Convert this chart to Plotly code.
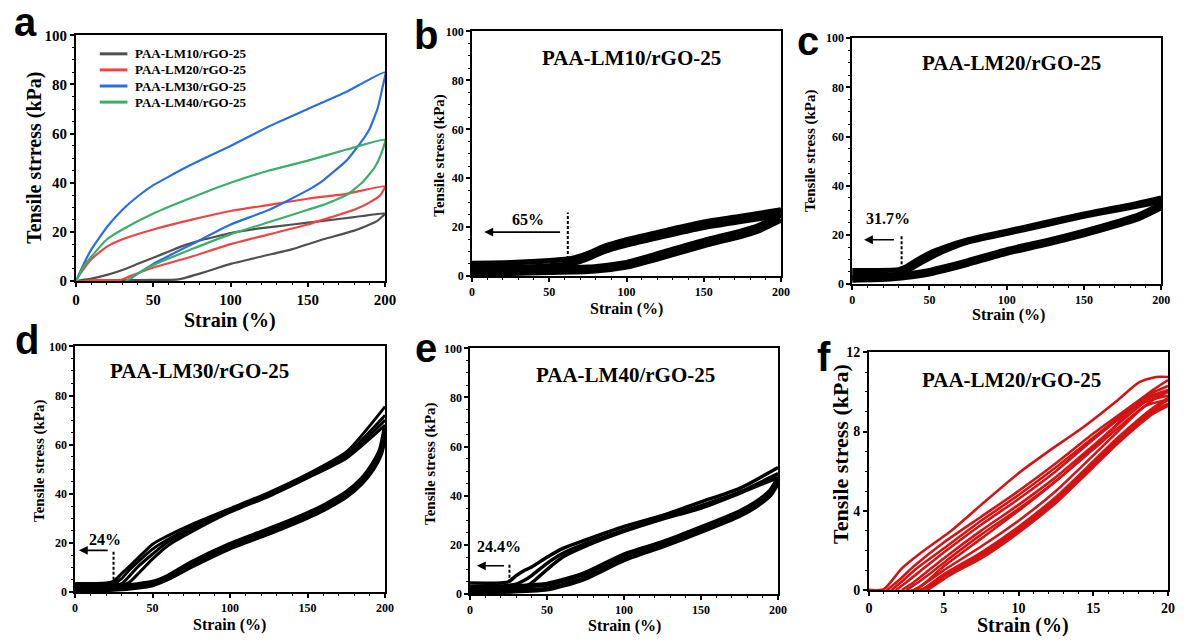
import plotly.graph_objects as go

# ---------------- Panel a data (loading / unloading curves) ----------------
a_names = ["PAA-LM10/rGO-25", "PAA-LM20/rGO-25", "PAA-LM30/rGO-25", "PAA-LM40/rGO-25"]
a_colors = ["#505050", "#ee4444", "#2a6fe0", "#3aaf6a"]

lm10_strain = [0, 10, 20, 30, 40, 50, 60, 70, 80, 90, 100, 120, 140, 160, 180, 200,
               195, 190, 180, 160, 150, 140, 120, 100, 90, 80, 70, 65, 60, 40, 20, 0]
lm10_stress = [0, 1, 2.5, 4.5, 7, 9.5, 12, 14.5, 16.5, 18, 19.5, 21.5, 23, 24.5, 26, 27.5,
               24.5, 23, 20.5, 17, 15, 13, 10, 7, 5, 3, 1.2, 0.6, 0.5, 0.4, 0.3, 0]
lm20_strain = [0, 5, 10, 20, 30, 50, 75, 100, 125, 150, 175, 200,
               197, 190, 180, 160, 150, 125, 100, 75, 50, 35, 28, 15, 0]
lm20_stress = [0, 5, 9, 14, 17, 21, 25, 28.5, 31, 33.5, 35.5, 38.5,
               35, 32, 29, 25, 23, 19, 15, 10, 5.5, 2, 0.3, 0.5, 0]
lm30_strain = [0, 5, 10, 20, 30, 40, 50, 60, 75, 100, 125, 150, 175, 200,
               198, 195, 190, 185, 175, 160, 150, 125, 100, 75, 50, 40, 33]
lm30_stress = [0, 7, 13, 22, 29, 34.5, 39, 42.5, 47.5, 55, 63, 70, 77, 85,
               78, 70, 62, 57, 49, 41, 37, 29, 23, 15, 7, 3, 0]
lm40_strain = [0, 5, 10, 20, 30, 50, 75, 100, 125, 150, 175, 200,
               197, 193, 185, 175, 160, 150, 125, 100, 75, 50, 40, 32]
lm40_stress = [0, 6, 10, 17, 21, 27.5, 34, 40, 45, 49, 53.5, 57.5,
               51, 46, 40, 35, 31, 29, 24, 19, 13, 6.5, 3, 0]

# ---------------- Panel b (PAA-LM10/rGO-25) cycles ----------------
b_load_strain = [0, 25, 50, 65, 75, 85, 100, 125, 150, 175, 200]
b_load1 = [5.2, 5.5, 6.3, 7.2, 9.2, 12, 14.8, 18.5, 22, 24.5, 27]
b_load2 = [3.2, 3.5, 4.2, 5.2, 7.2, 10, 12.8, 16.5, 20, 22.5, 25]
b_unload_strain = [200, 185, 175, 150, 125, 100, 85, 75, 50, 25, 0]
b_unload1 = [25, 20.5, 18.5, 14.5, 10, 5.5, 4.2, 3.6, 3.2, 2.6, 2.4]
b_unload2 = [23, 18.5, 16.5, 12.5, 8, 3.8, 2.5, 2, 1.6, 1.2, 1]

# ---------------- Panel c (PAA-LM20/rGO-25) cycles ----------------
c_load_strain = [0, 15, 30, 35, 40, 50, 60, 75, 100, 125, 150, 175, 200]
c_load1 = [5.5, 5.5, 5.8, 7, 9, 12.5, 15, 18, 21.5, 25, 28.5, 31.5, 35]
c_load2 = [3.5, 3.5, 4, 5, 7, 10.5, 13.5, 17, 20.5, 24, 27.5, 30.5, 33.5]
c_unload_strain = [200, 185, 175, 150, 125, 100, 75, 60, 50, 40, 25, 0]
c_unload1 = [32.5, 28, 26, 21.5, 17.5, 14, 9.5, 7, 5.5, 4.5, 3.5, 2.5]
c_unload2 = [31, 26.5, 24.5, 20, 16, 12.5, 8, 5.5, 4, 3, 2, 1.5]

# ---------------- Panel d (PAA-LM30/rGO-25) cycles ----------------
d_load_strain = [0, 20, 25, 30, 35, 40, 50, 60, 75, 100, 125, 150, 175, 200]
d_load1 = [3.5, 3.7, 4.5, 7.5, 10.5, 13.5, 19.5, 23, 27.5, 34, 40.5, 48, 57, 75.5]
d_load2 = [3, 3.2, 3.5, 5.5, 9, 12, 17.5, 21.5, 26.5, 33.5, 40, 47.5, 56, 72]
d_load3 = [2.5, 2.7, 3, 3.5, 6.5, 10, 15.5, 20.5, 25.5, 33, 39.5, 47, 55, 70]
d_load4 = [2, 2.2, 2.5, 2.8, 4, 7, 13.5, 19, 24.5, 32.5, 39, 46.5, 54.5, 68]
d_unload_strain = [200, 197, 192, 185, 175, 160, 150, 125, 100, 75, 60, 50, 40, 25, 0]
d_unload1 = [67, 58, 52, 46, 40.5, 35, 32, 25.5, 19.5, 12, 6.5, 4, 3, 2, 1.5]
d_unload2 = [64, 56, 50, 44.5, 39, 33.5, 30.5, 24, 18, 10.5, 5.5, 3, 2, 1.2, 0.8]

# ---------------- Panel e (PAA-LM40/rGO-25) cycles ----------------
e_load_strain = [0, 20, 25, 30, 35, 40, 50, 60, 75, 100, 125, 150, 175, 200]
e_load1 = [4.5, 4.5, 5, 7.5, 9.5, 11, 15, 18.5, 22, 27.5, 32, 37.5, 43, 51.5]
e_load2 = [3, 3.3, 3.5, 4, 5.5, 7.5, 12.5, 16.5, 20.5, 26, 31, 36, 41.5, 49]
e_load3 = [1.5, 1.8, 2, 2.2, 2.8, 4.5, 10, 15, 19.5, 25.5, 30.5, 35, 41, 47.5]
e_unload_strain = [200, 195, 185, 175, 150, 125, 100, 75, 60, 50, 40, 20, 0]
e_unload1 = [47, 42, 37, 33.5, 27, 21, 16, 8.5, 5.5, 4, 3.5, 2.5, 2]
e_unload2 = [45.5, 40.5, 35.5, 32, 25.5, 19.5, 14, 6.5, 3.5, 2, 1.5, 1, 0.8]

# ---------------- Panel f (PAA-LM20/rGO-25, small strain) cycles ----------------
f_L1_x = [0, 1, 2.2, 3.5, 5.5, 7.5, 10, 12, 14.3, 16.5, 18.1, 19.2, 20]
f_L1_y = [0, 0.05, 1.1, 1.9, 3.0, 4.3, 5.9, 7.0, 8.2, 9.5, 10.5, 10.75, 10.75]
f_U1_x = [20, 19, 18, 16.5, 15, 12.5, 10, 7.5, 5, 3.8, 3.0, 0]
f_U1_y = [10.6, 10.1, 9.5, 8.3, 7.2, 5.5, 4.0, 2.6, 1.2, 0.4, 0, 0]
f_L2_x = [1.2, 2, 3, 5, 7.5, 10, 12.5, 15, 17, 18.5, 20]
f_L2_y = [0, 0.5, 1.2, 2.4, 3.7, 5.0, 6.4, 7.9, 9.0, 9.8, 10.3]
f_U2_x = [20, 19, 18, 16.5, 15, 12.5, 10, 7.5, 5, 3.5, 3.0]
f_U2_y = [10.0, 9.6, 9.0, 7.9, 6.8, 5.0, 3.5, 2.2, 1.0, 0.2, 0]
f_L3_x = [1.8, 2.5, 3.5, 5, 7.5, 10, 12.5, 15, 17, 18.5, 20]
f_L3_y = [0, 0.4, 1.0, 1.9, 3.3, 4.6, 6.0, 7.6, 8.8, 9.6, 10.0]
f_U3_x = [20, 19, 18, 16.5, 15, 12.5, 10, 7.5, 5, 3.7, 3.4]
f_U3_y = [9.7, 9.2, 8.6, 7.6, 6.5, 4.7, 3.2, 1.9, 0.8, 0.1, 0]
f_L4_x = [2.2, 3, 4, 5, 7.5, 10, 12.5, 15, 17, 18.5, 20]
f_L4_y = [0, 0.4, 1.0, 1.6, 3.0, 4.3, 5.7, 7.3, 8.6, 9.5, 9.8]
f_U4_x = [20, 19, 18, 16.5, 15, 12.5, 10, 7.5, 5, 3.8]
f_U4_y = [9.4, 9.0, 8.4, 7.4, 6.3, 4.5, 3.0, 1.7, 0.7, 0]
f_L5_x = [1.5, 2.3, 3.2, 5, 7.5, 10, 12.5, 15, 17, 18.5, 20]
f_L5_y = [0, 0.5, 1.1, 2.1, 3.5, 4.8, 6.2, 7.7, 8.9, 9.7, 10.1]
f_U5_x = [20, 19, 18, 16.5, 15, 12.5, 10, 7.5, 5, 3.6, 3.2]
f_U5_y = [9.6, 9.1, 8.5, 7.5, 6.4, 4.6, 3.1, 1.8, 0.75, 0.05, 0]
f_L6_x = [2.5, 3.3, 4.2, 5.2, 7.5, 10, 12.5, 15, 17, 18.5, 20]
f_L6_y = [0, 0.4, 0.9, 1.5, 2.8, 4.1, 5.5, 7.1, 8.4, 9.3, 9.6]
f_U6_x = [20, 19, 18, 16.5, 15, 12.5, 10, 7.5, 5.5, 3.9]
f_U6_y = [9.3, 8.9, 8.3, 7.3, 6.2, 4.4, 2.9, 1.6, 0.8, 0]

panel_titles = ["PAA-LM10/rGO-25", "PAA-LM20/rGO-25", "PAA-LM30/rGO-25",
                "PAA-LM40/rGO-25", "PAA-LM20/rGO-25"]
recovery_strain = [62, 32, 24.8, 25.6]
recovery_labels = ["65%", "31.7%", "24%", "24.4%"]
panel_letters = ["a", "b", "c", "d", "e", "f"]
x_title = "Strain (%)"
y_titles = ["Tensile strress (kPa)", "Tensile stress (kPa)", "Tensile stress (kPa)",
            "Tensile stress (kPa)", "Tensile stress (kPa)", "Tensile stress (kPa)"]

SERIF = "Liberation Serif, Times New Roman, serif"
SANS = "Liberation Sans, Arial, sans-serif"
W, H = 1187, 643

fig = go.Figure()

# panel a
a_data = [(lm10_strain, lm10_stress), (lm20_strain, lm20_stress),
          (lm30_strain, lm30_stress), (lm40_strain, lm40_stress)]
for name, col, (xs, ys) in zip(a_names, a_colors, a_data):
    fig.add_trace(go.Scatter(x=xs, y=ys, mode="lines", name=name, showlegend=False,
                             line=dict(color=col, width=2.2, shape="spline", smoothing=0.4),
                             xaxis="x", yaxis="y"))

def add_band(xs, ys, ax, width=4, color="black"):
    fig.add_trace(go.Scatter(x=xs, y=ys, mode="lines", showlegend=False,
                             line=dict(color=color, width=width, shape="spline", smoothing=0.6),
                             xaxis="x" + ax, yaxis="y" + ax))

for ys in (b_load1, b_load2):
    add_band(b_load_strain, ys, "2", 5.5)
for ys in (b_unload1, b_unload2):
    add_band(b_unload_strain, ys, "2", 5.5)
for ys in (c_load1, c_load2):
    add_band(c_load_strain, ys, "3", 5)
for ys in (c_unload1, c_unload2):
    add_band(c_unload_strain, ys, "3", 5)
for ys in (d_load1, d_load2, d_load3, d_load4):
    add_band(d_load_strain, ys, "4", 3)
for ys in (d_unload1, d_unload2):
    add_band(d_unload_strain, ys, "4", 5)
for ys in (e_load1, e_load2, e_load3):
    add_band(e_load_strain, ys, "5", 3.5)
for ys in (e_unload1, e_unload2):
    add_band(e_unload_strain, ys, "5", 5)
fred = "#d21414"
for xs, ys in [(f_L1_x, f_L1_y), (f_U1_x, f_U1_y), (f_L2_x, f_L2_y), (f_U2_x, f_U2_y),
               (f_L5_x, f_L5_y), (f_U5_x, f_U5_y),
               (f_L3_x, f_L3_y), (f_U3_x, f_U3_y), (f_L4_x, f_L4_y), (f_U4_x, f_U4_y),
               (f_L6_x, f_L6_y), (f_U6_x, f_U6_y)]:
    add_band(xs, ys, "6", 2.6, fred)

def dom_x(l, r):
    return [l / W, r / W]
def dom_y(t, b):
    return [1 - b / H, 1 - t / H]

panels = {
    "": (dom_x(73, 386), dom_y(28, 280), [0, 200], [0, 100], 50, 20),
    "2": (dom_x(474, 787), dom_y(24, 275), [0, 200], [0, 100], 50, 20),
    "3": (dom_x(859, 1172), dom_y(31, 283), [0, 200], [0, 100], 50, 20),
    "4": (dom_x(72, 386), dom_y(347, 599), [0, 200], [0, 100], 50, 20),
    "5": (dom_x(472, 784), dom_y(349, 601), [0, 200], [0, 100], 50, 20),
    "6": (dom_x(876, 1179), dom_y(353, 597), [0, 20], [0, 12], 5, 4),
}
tick_sizes = {"": 15, "2": 12, "3": 12, "4": 12, "5": 12, "6": 14}
layout = {}
for k, (dx, dy, rx, ry, tx, ty) in panels.items():
    lw = 2 if k in ("", "6") else 1.5
    common = dict(showline=True, linecolor="black", linewidth=lw, mirror=True,
                  ticks="outside", ticklen=4, tickwidth=lw, tickcolor="black",
                  showgrid=False, zeroline=False,
                  tickfont=dict(family=SERIF, size=tick_sizes[k], color="black", weight="bold"),
                  minor=dict(ticks="outside", ticklen=2, tickwidth=1, tickcolor="black"))
    layout["xaxis" + k] = dict(common, domain=dx, range=rx, dtick=tx, tick0=0, anchor="y" + k)
    layout["yaxis" + k] = dict(common, domain=dy, range=ry, dtick=ty, tick0=0, anchor="x" + k)
fig.update_layout(**layout)

annotations = []
shapes = []

def px_ann(x, y, text, size, family=SERIF, angle=0, xanchor="center"):
    annotations.append(dict(x=x / W, y=1 - y / H, xref="paper", yref="paper", text=text,
                            showarrow=False, textangle=angle, xanchor=xanchor, yanchor="middle",
                            font=dict(family=family, size=size, color="black", weight="bold")))

# panel letters
letter_pos = [(22, 14), (427, 28), (814, 34), (23, 340), (427, 349), (830, 358)]
for letter, (px, py) in zip(panel_letters, letter_pos):
    px_ann(px, py, letter, 40, family=SANS)

# axis titles
xt_pos = [(229, 320, 20), (630, 309, 16), (1017, 315, 16), (228, 633, 16), (628, 634, 16), (1032, 633, 20)]
yt_pos = [(31, 154, 20), (441, 151, 15), (817, 146, 15), (36, 464, 15), (432, 467, 15), (847, 457, 22)]
for (x, y, s) in xt_pos:
    px_ann(x, y, x_title, s)
for t, (x, y, s) in zip(y_titles, yt_pos):
    px_ann(x, y, t, s, angle=-90)

# manual legend for panel a
leg_rows = [47, 63.5, 80, 96.5]
for name, col, ry in zip(a_names, a_colors, leg_rows):
    shapes.append(dict(type="line", xref="paper", yref="paper", x0=97 / W, x1=125 / W,
                       y0=1 - ry / H, y1=1 - ry / H, line=dict(color=col, width=3)))
    px_ann(131, ry, name, 13, xanchor="left")

# panel titles
title_pos = [("2", 103, 89), ("3", 103, 90), ("4", 80, 90), ("5", 101, 89), ("6", 9.5, 10.6)]
for t, (ax, tx, ty) in zip(panel_titles, title_pos):
    annotations.append(dict(x=tx, y=ty, xref="x" + ax, yref="y" + ax, text=t, showarrow=False,
                            font=dict(family=SERIF, size=21, color="black", weight="bold")))
# recovery markers: dashed line + left arrow + label
rec = [("2", 7, 26, 58, 8, 18, 36.4, 23),
       ("3", 6, 20, 28, 7.7, 18, 23, 26.8),
       ("4", 1, 16.5, 22, 2.5, 17, 19, 21.5),
       ("5", 0.5, 12.3, 23, 4.5, 11.5, 19, 19.5)]
for xs, lab, (ax, y0, y1, a_from, a_to, ay, lx, ly) in zip(recovery_strain, recovery_labels, rec):
    shapes.append(dict(type="line", xref="x" + ax, yref="y" + ax, x0=xs, x1=xs, y0=y0, y1=y1,
                       line=dict(color="black", width=2, dash="3px,2px")))
    annotations.append(dict(x=a_to, y=ay, ax=a_from, ay=ay, xref="x" + ax, yref="y" + ax,
                            axref="x" + ax, ayref="y" + ax, text="", showarrow=True,
                            arrowhead=2, arrowsize=1.1, arrowwidth=1.6, arrowcolor="black"))
    annotations.append(dict(x=lx, y=ly, xref="x" + ax, yref="y" + ax, text=lab, showarrow=False,
                            font=dict(family=SERIF, size=16, color="black", weight="bold")))

fig.update_layout(
    width=W, height=H, margin=dict(l=0, r=0, t=0, b=0),
    paper_bgcolor="white", plot_bgcolor="white",
    font=dict(family=SERIF, color="black"),
    annotations=annotations, shapes=shapes, showlegend=False,
)

fig.write_html("out.html")
